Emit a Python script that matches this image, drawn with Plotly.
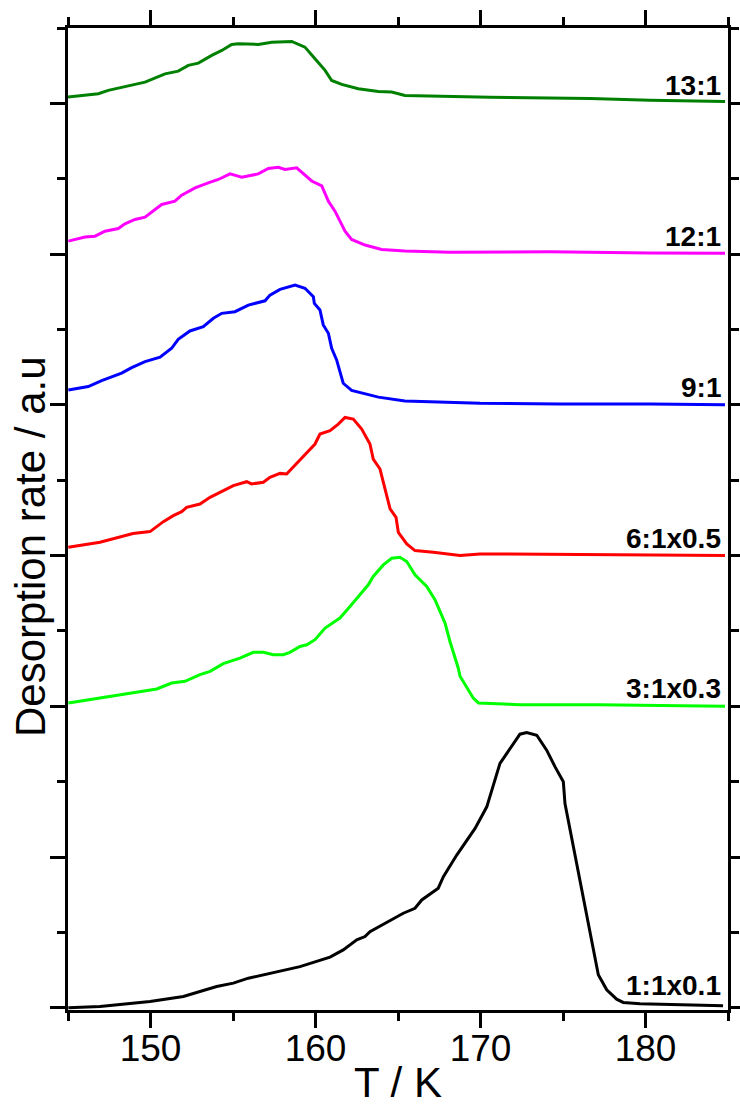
import plotly.graph_objects as go

# ---- data (T in K, signal in a.u. relative to each trace's baseline) ----
labels = ["13:1", "12:1", "9:1", "6:1x0.5", "3:1x0.3", "1:1x0.1"]
offsets = [6, 5, 4, 3, 2, 0]
colors = ["#008000", "#FF00FF", "#0000FF", "#FF0000", "#00FF00", "#000000"]

T_13 = [145.0, 146.84, 147.44, 148.86, 149.67, 150.88, 151.68, 152.29, 152.9, 153.71, 154.32,
        154.92, 155.32, 156.53, 157.35, 158.56, 159.36, 159.97, 160.58, 160.98, 161.59, 162.59,
        163.81, 164.62, 165.42, 170.58, 176.64, 180.27, 184.82]
S_13 = [0.042, 0.064, 0.086, 0.119, 0.141, 0.196, 0.214, 0.252, 0.267, 0.318, 0.351,
        0.391, 0.395, 0.391, 0.406, 0.411, 0.373, 0.296, 0.219, 0.152, 0.126, 0.097,
        0.079, 0.075, 0.053, 0.040, 0.033, 0.020, 0.013]

T_12 = [145.02, 146.03, 146.64, 147.24, 148.05, 148.45, 149.06, 149.67, 150.68, 151.48, 151.89,
        152.7, 153.5, 154.11, 154.82, 155.53, 156.53, 157.14, 157.75, 158.15, 158.86, 159.77,
        160.38, 160.78, 161.18, 161.79, 162.19, 163.0, 164.01, 165.42, 168.15, 174.2, 180.27, 184.82]
S_12 = [0.086, 0.113, 0.119, 0.152, 0.170, 0.201, 0.230, 0.245, 0.329, 0.351, 0.391,
        0.439, 0.472, 0.495, 0.532, 0.510, 0.532, 0.568, 0.576, 0.561, 0.572, 0.485,
        0.452, 0.351, 0.285, 0.152, 0.097, 0.060, 0.031, 0.020, 0.013, 0.015, 0.008, 0.005]

T_9 = [145.02, 146.23, 147.04, 148.25, 148.86, 149.67, 150.58, 151.28, 151.68, 152.39, 153.2,
       153.81, 154.32, 155.12, 155.93, 156.94, 157.24, 157.85, 158.76, 159.36, 159.87, 159.93,
       160.27, 160.47, 160.78, 160.98, 161.28, 161.68, 162.19, 163.0, 163.81, 165.42, 169.97,
       174.8, 180.27, 184.82]
S_9 = [0.099, 0.121, 0.161, 0.210, 0.247, 0.287, 0.316, 0.375, 0.435, 0.490, 0.518,
       0.574, 0.607, 0.618, 0.662, 0.690, 0.728, 0.766, 0.795, 0.773, 0.717, 0.673,
       0.629, 0.530, 0.475, 0.375, 0.298, 0.143, 0.095, 0.073, 0.051, 0.026, 0.010,
       0.005, 0.006, 0.0]

T_6 = [145.02, 146.94, 148.94, 149.97, 150.78, 151.38, 151.89, 152.19, 153.0, 153.61, 155.02,
       155.83, 156.13, 156.84, 157.24, 157.85, 158.25, 159.26, 159.97, 160.27, 160.88, 161.38,
       161.79, 162.29, 162.8, 163.3, 163.5, 163.91, 164.21, 164.52, 164.88, 165.02, 165.53,
       166.03, 167.14, 168.76, 169.97, 174.8, 180.27, 184.82]
S_6 = [0.055, 0.088, 0.146, 0.159, 0.225, 0.265, 0.291, 0.320, 0.342, 0.386, 0.464,
       0.490, 0.475, 0.486, 0.519, 0.545, 0.541, 0.662, 0.740, 0.806, 0.828, 0.872,
       0.916, 0.905, 0.839, 0.740, 0.640, 0.574, 0.441, 0.309, 0.254, 0.154, 0.077,
       0.033, 0.022, 0.0, 0.011, 0.008, 0.007, 0.0]

T_3 = [145.02, 146.94, 149.36, 150.38, 151.28, 152.09, 153.0, 153.61, 154.41, 155.42, 156.23,
       156.84, 157.44, 158.05, 158.45, 159.06, 159.47, 159.97, 160.58, 161.48, 162.09, 162.7,
       163.2, 163.5, 164.11, 164.62, 165.12, 165.53, 166.03, 166.74, 167.24, 167.85, 168.15,
       168.65, 168.76, 169.56, 169.88, 172.4, 177.2, 180.9, 184.82]
S_3 = [0.022, 0.055, 0.099, 0.115, 0.154, 0.166, 0.210, 0.232, 0.283, 0.320, 0.358,
       0.358, 0.342, 0.342, 0.358, 0.397, 0.408, 0.442, 0.519, 0.585, 0.662, 0.740,
       0.806, 0.861, 0.938, 0.982, 0.989, 0.960, 0.872, 0.795, 0.707, 0.552, 0.430,
       0.254, 0.199, 0.055, 0.022, 0.010, 0.010, 0.005, 0.0]

T_1 = [145.02, 146.94, 149.97, 151.99, 154.01, 155.02, 155.93, 159.06, 160.88, 161.68, 162.5,
       163.0, 163.3, 164.32, 165.32, 166.03, 166.44, 167.44, 167.75, 168.56, 169.16, 169.67,
       170.38, 171.18, 172.39, 172.8, 173.41, 174.01, 174.52, 175.02, 175.12, 175.83, 176.44,
       177.14, 177.65, 178.25, 178.65, 179.67, 184.7]
S_1 = [0.0, 0.009, 0.042, 0.075, 0.141, 0.163, 0.196, 0.273, 0.336, 0.384, 0.450,
       0.472, 0.505, 0.565, 0.627, 0.660, 0.715, 0.793, 0.870, 1.013, 1.113, 1.190,
       1.333, 1.621, 1.815, 1.826, 1.808, 1.709, 1.598, 1.499, 1.355, 0.958, 0.627,
       0.219, 0.119, 0.057, 0.035, 0.026, 0.013]

temps = [T_13, T_12, T_9, T_6, T_3, T_1]
signals = [S_13, S_12, S_9, S_6, S_3, S_1]

x_ticks = [150, 160, 170, 180]
y_ticks = [0, 1, 2, 3, 4, 5, 6]

fig = go.Figure()
for t, s, off, col in zip(temps, signals, offsets, colors):
    fig.add_trace(go.Scatter(x=t, y=[v + off for v in s], mode="lines",
                             line=dict(color=col, width=3), showlegend=False,
                             hoverinfo="skip"))

label_dy = [0.0, 0.0, 0.0, 0.0, 0.0, 0.03]
for lab, off, dy in zip(labels, offsets, label_dy):
    fig.add_annotation(x=0.992, xref="paper", y=off + dy, yref="y",
                       text="<b>" + lab + "</b>", showarrow=False,
                       xanchor="right", yanchor="bottom",
                       font=dict(family="Liberation Sans, Arial", size=28, color="black"))

fig.add_annotation(x=0.5, xref="paper", y=-0.074, yref="paper", text="T / K",
                   showarrow=False, xanchor="center", yanchor="middle",
                   font=dict(family="Liberation Sans, Arial", size=42, color="black"))
fig.add_annotation(x=-0.056, xref="paper", y=0.4715, yref="paper",
                   text="Desorption rate / a.u", textangle=-90,
                   showarrow=False, xanchor="center", yanchor="middle",
                   font=dict(family="Liberation Sans, Arial", size=42, color="black"))

axis_common = dict(showline=True, linecolor="black", linewidth=3, mirror="ticks",
                   ticks="outside", tickcolor="black", tickwidth=3, showgrid=False,
                   zeroline=False, automargin=False)

fig.update_xaxes(range=[145, 185], tickvals=x_ticks, ticklen=15, ticklabelstandoff=-11,
                 tickfont=dict(family="Liberation Sans, Arial", size=37, color="black"),
                 minor=dict(dtick=5, tick0=145, ticklen=8, tickwidth=3, tickcolor="black",
                            ticks="outside", showgrid=False),
                 **axis_common)
fig.update_yaxes(range=[-0.015, 6.5], tickvals=y_ticks, ticklen=15, showticklabels=False,
                 minor=dict(dtick=0.5, tick0=0, ticklen=8, tickwidth=3, tickcolor="black",
                            ticks="outside", showgrid=False),
                 **axis_common)

fig.update_layout(width=740, height=1120, margin=dict(l=68, r=12, t=28, b=110),
                  paper_bgcolor="white", plot_bgcolor="white")

fig.write_html("out.html", config={"displayModeBar": False},
               post_script="document.body.style.margin='0';document.body.style.overflow='hidden';")
